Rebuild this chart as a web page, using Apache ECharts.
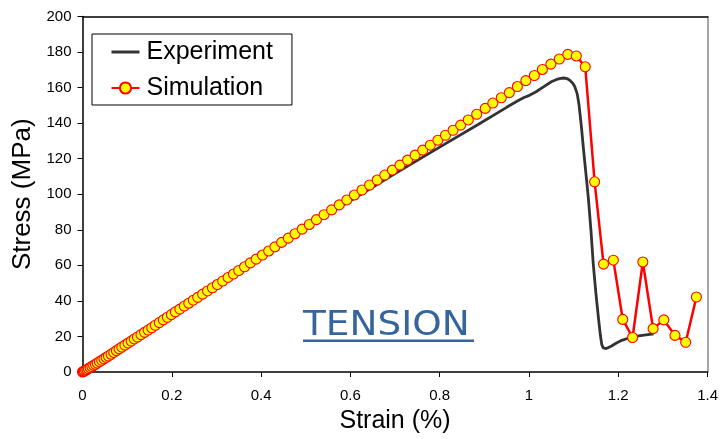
<!DOCTYPE html>
<html>
<head>
<meta charset="utf-8">
<script src="https://cdn.jsdelivr.net/npm/echarts@6/dist/echarts.min.js"></script>
<style>html,body{margin:0;padding:0;background:#fff;}#c{width:721px;height:439px;}</style>
</head>
<body>
<div id="c"></div>
<script>
// Tick labels
const xTicks = [0, 0.2, 0.4, 0.6, 0.8, 1, 1.2, 1.4];
const yTicks = [0, 20, 40, 60, 80, 100, 120, 140, 160, 180, 200];

// Experiment curve (strain %, stress MPa)
const expStrain = [0, 0.05, 0.1, 0.2, 0.3, 0.4, 0.5, 0.6, 0.7, 0.8, 0.887, 0.95, 0.975, 0.99, 1.0, 1.015, 1.035, 1.05, 1.062, 1.071, 1.078, 1.085, 1.092, 1.098, 1.103, 1.108, 1.112, 1.117, 1.122, 1.128, 1.133, 1.139, 1.144, 1.150, 1.156, 1.160, 1.163, 1.166, 1.169, 1.173, 1.178, 1.185, 1.195, 1.208, 1.222, 1.238, 1.258, 1.279];
const expStress = [0, 7.5, 15.8, 32.3, 48.8, 65.2, 81.2, 96.3, 111.6, 126.5, 139.4, 148.9, 152.6, 154.6, 155.5, 157.5, 160.8, 163.3, 164.6, 165.2, 165.4, 165.1, 164.0, 162.5, 160.3, 156.5, 150.5, 139.0, 125.6, 110.5, 97.8, 79.0, 60.7, 44.0, 29.4, 20.5, 15.5, 13.6, 13.0, 13.2, 13.8, 14.6, 16.2, 17.8, 19.0, 20.0, 20.8, 21.5];

// Simulation points (strain %, stress MPa)
const simStrain = [0, 0.002, 0.004, 0.007, 0.010, 0.013, 0.017, 0.021, 0.025, 0.029, 0.033, 0.038, 0.043, 0.048, 0.053, 0.058, 0.064, 0.070, 0.076, 0.082, 0.088, 0.095, 0.102, 0.109, 0.116, 0.123, 0.131, 0.139, 0.147, 0.155, 0.163, 0.172, 0.181, 0.190, 0.199, 0.208, 0.218, 0.228, 0.238, 0.248, 0.258, 0.269, 0.280, 0.291, 0.302, 0.314, 0.326, 0.338, 0.350, 0.363, 0.376, 0.389, 0.403, 0.417, 0.431, 0.446, 0.461, 0.476, 0.492, 0.508, 0.524, 0.541, 0.558, 0.575, 0.592, 0.609, 0.626, 0.643, 0.660, 0.677, 0.694, 0.711, 0.728, 0.745, 0.762, 0.779, 0.796, 0.813, 0.830, 0.847, 0.864, 0.883, 0.902, 0.919, 0.938, 0.956, 0.974, 0.993, 1.012, 1.030, 1.049, 1.068, 1.087, 1.106, 1.126, 1.147, 1.167, 1.189, 1.210, 1.232, 1.255, 1.278, 1.302, 1.327, 1.351, 1.375];
const simStress = [0, 0.3, 0.6, 1.0, 1.4, 1.9, 2.5, 3.1, 3.7, 4.3, 5.0, 5.8, 6.6, 7.4, 8.2, 9.0, 10.0, 11.0, 12.0, 13.0, 14.0, 15.1, 16.3, 17.4, 18.6, 19.7, 21.0, 22.3, 23.6, 24.9, 26.3, 27.8, 29.3, 30.8, 32.3, 33.8, 35.4, 37.1, 38.7, 40.4, 42.0, 43.8, 45.6, 47.4, 49.2, 51.2, 53.2, 55.1, 57.1, 59.2, 61.4, 63.5, 65.8, 68.1, 70.4, 72.9, 75.3, 77.8, 80.4, 83.0, 85.7, 88.5, 91.2, 94.0, 96.8, 99.6, 102.4, 105.2, 108.0, 110.8, 113.6, 116.4, 119.2, 122.0, 124.8, 127.6, 130.4, 133.2, 136.0, 138.9, 141.8, 145.0, 148.3, 151.3, 154.3, 157.2, 160.6, 163.9, 166.8, 170.2, 173.2, 176.1, 178.7, 177.8, 171.7, 107.0, 60.7, 62.9, 29.6, 19.4, 61.9, 24.4, 29.3, 20.6, 16.7, 42.2];

const zip = (a, b) => a.map((v, i) => [v, b[i]]);
const FONT = "'Liberation Sans', Arial, sans-serif";
const TENSION_BLUE = '#35659c';

const chart = echarts.init(document.getElementById('c'), null, {renderer: 'canvas'});
chart.setOption({
  animation: false,
  backgroundColor: '#fff',
  grid: {left: 82.5, right: 12, top: 16.5, bottom: 63, containLabel: false},
  legend: {
    left: 92, top: 34, orient: 'vertical',
    padding: [5, 19, 4, 18],
    itemGap: 10, itemWidth: 28, itemHeight: 14,
    borderColor: '#000', borderWidth: 1, backgroundColor: '#fff',
    textStyle: {fontFamily: FONT, fontSize: 25, color: '#000', lineHeight: 26, padding: [0, 0, 0, 2]},
    data: [{name: 'Experiment', itemStyle: {opacity: 0}, lineStyle: {width: 3, color: '#333'}}, {name: 'Simulation'}]
  },
  xAxis: [{
    type: 'value', min: 0, max: 1.4, interval: 0.2,
    name: 'Strain (%)', nameLocation: 'middle', nameGap: 37,
    nameTextStyle: {fontFamily: FONT, fontSize: 25, color: '#000'},
    axisLine: {show: true, lineStyle: {color: '#000', width: 1.5}},
    axisTick: {show: true, inside: false, length: 5, lineStyle: {color: '#000'}},
    axisLabel: {fontFamily: FONT, fontSize: 15, color: '#000', margin: 16,
      formatter: v => { const t = xTicks.find(x => Math.abs(x - v) < 1e-9); return t === undefined ? '' : String(t); }},
    splitLine: {show: false}
  }, {
    type: 'value', min: 0, max: 1.4, position: 'top',
    axisLine: {show: true, onZero: false, lineStyle: {color: '#000', width: 1.5}},
    axisTick: {show: false}, axisLabel: {show: false}, splitLine: {show: false}
  }],
  yAxis: [{
    type: 'value', min: 0, max: 200, interval: 20,
    name: 'Stress (MPa)', nameLocation: 'middle', nameGap: 42,
    nameTextStyle: {fontFamily: FONT, fontSize: 26, color: '#000'},
    axisLine: {show: true, lineStyle: {color: '#000', width: 1.5}},
    axisTick: {show: true, inside: false, length: 5, lineStyle: {color: '#000'}},
    axisLabel: {fontFamily: FONT, fontSize: 15, color: '#000', margin: 11,
      formatter: v => { const t = yTicks.find(y => Math.abs(y - v) < 1e-9); return t === undefined ? '' : String(t); }},
    splitLine: {show: false}
  }, {
    type: 'value', min: 0, max: 200, position: 'right',
    axisLine: {show: true, onZero: false, lineStyle: {color: '#888', width: 1.5}},
    axisTick: {show: false}, axisLabel: {show: false}, splitLine: {show: false}
  }],
  series: [{
    name: 'Experiment', type: 'line', xAxisIndex: 0, yAxisIndex: 0,
    data: zip(expStrain, expStress),
    symbol: 'none', smooth: false,
    lineStyle: {color: '#333', width: 2.8},
    itemStyle: {color: '#333'}
  }, {
    name: 'Simulation', type: 'line', xAxisIndex: 0, yAxisIndex: 0,
    data: zip(simStrain, simStress),
    symbol: 'circle', symbolSize: 10, showAllSymbol: true,
    lineStyle: {color: '#ff0000', width: 2.5},
    itemStyle: {color: '#ffff00', borderColor: '#ff0000', borderWidth: 1.1}
  }],
  graphic: [{
    type: 'group', left: 303, top: 309,
    children: [{
      type: 'text', left: 0, top: 0, scaleX: 1.1,
      style: {text: 'TENSION', fontFamily: "'DejaVu Sans', Verdana, sans-serif", fontSize: 34, fill: TENSION_BLUE}
    }, {
      type: 'rect', shape: {x: 0, y: 30.5, width: 171, height: 2.5},
      style: {fill: TENSION_BLUE}
    }]
  }]
});
</script>
</body>
</html>
